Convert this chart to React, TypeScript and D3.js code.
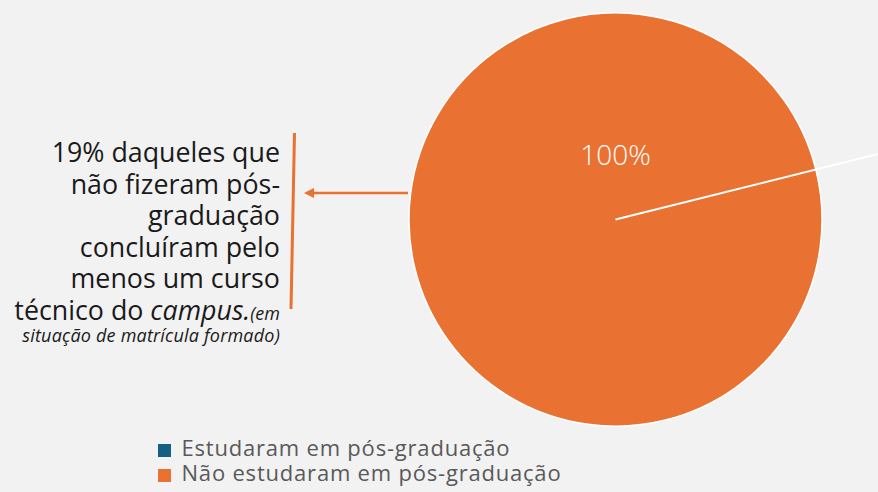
import React from "react";
import * as d3 from "d3";

const categories = ["Estudaram em pós-graduação", "Não estudaram em pós-graduação"];
const values = [0, 100];
const labels = ["", "100%"];
const colors = ["#156082", "#E97132"];
const noteLines = [
  "19% daqueles que",
  "não fizeram pós-",
  "graduação",
  "concluíram pelo",
  "menos um curso",
];

const W = 878;
const H = 492;

export default function App() {
  const cx = 615.5;
  const cy = 219.5;
  const r = 206.5;
  const startDeg = 76;
  const pie = d3
    .pie<number>()
    .sort(null)
    .value((d) => d)
    .startAngle((startDeg * Math.PI) / 180)
    .endAngle(((startDeg + 360) * Math.PI) / 180);
  const arcs = pie(values);
  const arc = d3.arc<d3.PieArcDatum<number>>().innerRadius(0).outerRadius(r);
  const a0 = arcs[0].startAngle;
  const lineLen = 300;
  const lx = Math.sin(a0) * lineLen;
  const ly = -Math.cos(a0) * lineLen;

  const font = "'Open Sans', 'Noto Sans', sans-serif";
  const noteX = 280;
  const baseY = 162;
  const lh = 31.5;

  return (
    <svg
      width={W}
      height={H}
      style={{ position: "absolute", left: 0, top: 0, display: "block" }}
    >
      <rect width={W} height={H} fill="#f2f2f2" />
      <g transform={`translate(${cx},${cy})`}>
        {arcs.map((a, i) =>
          a.endAngle - a.startAngle > 0 ? (
            <path key={i} d={arc(a) || ""} fill={colors[i]} stroke="#ffffff" strokeWidth={1.5} />
          ) : null
        )}
        <line x1={0} y1={0} x2={lx} y2={ly} stroke="#ffffff" strokeWidth={2} />
        {arcs.map((a, i) =>
          labels[i] ? (
            <text
              key={"l" + i}
              x={0}
              y={-55}
              textAnchor="middle"
              fontFamily={font}
              fontSize={28}
              fontWeight={300}
              fill="#ffffff"
            >
              {labels[i]}
            </text>
          ) : null
        )}
      </g>

      {/* annotation */}
      {noteLines.map((t, i) => (
        <text
          key={i}
          x={noteX}
          y={baseY + i * lh}
          textAnchor="end"
          fontFamily={font}
          fontSize={26.8}
          fill="#1a1a1a"
        >
          {t}
        </text>
      ))}
      <text x={noteX} y={baseY + 5 * lh} textAnchor="end" fontFamily={font} fill="#1a1a1a">
        <tspan fontSize={26.8}>técnico do </tspan>
        <tspan fontSize={26.8} fontStyle="italic">campus.</tspan>
        <tspan fontSize={18} fontStyle="italic">(em</tspan>
      </text>
      <text
        x={noteX}
        y={341.5}
        textAnchor="end"
        fontFamily={font}
        fontSize={18}
        letterSpacing={0.2}
        fontStyle="italic"
        fill="#1a1a1a"
      >
        situação de matrícula formado)
      </text>
      <line x1={294.5} y1={133} x2={291} y2={309} stroke="#E97132" strokeWidth={3} />
      <line x1={408} y1={193} x2={312} y2={193} stroke="#E97132" strokeWidth={2.5} />
      <path d="M304,193 L314,188 L314,198 Z" fill="#E97132" />

      {/* legend */}
      {categories.map((c, i) => (
        <g key={c} transform={`translate(158,${456 + i * 25})`}>
          <rect x={0} y={-12} width={13} height={13} fill={colors[i]} />
          <text x={23.5} y={0} fontFamily={font} fontSize={22} letterSpacing={0.8} fill="#595959">
            {c}
          </text>
        </g>
      ))}
    </svg>
  );
}
